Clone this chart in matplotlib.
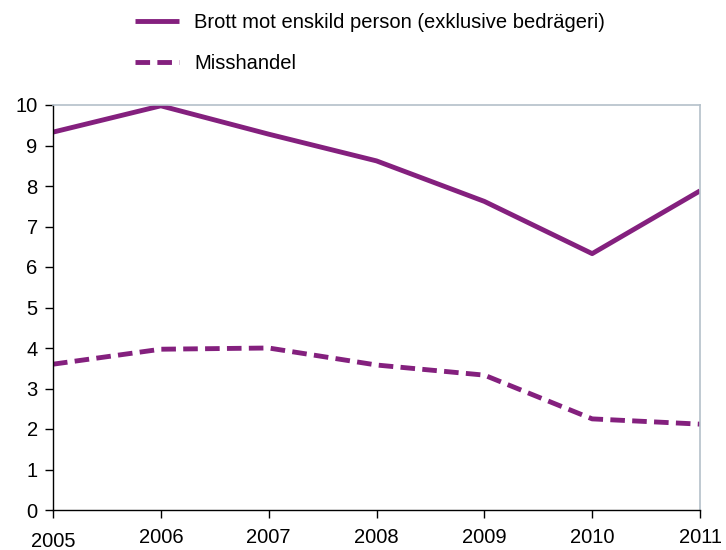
import matplotlib
matplotlib.use("Agg")
import matplotlib.pyplot as plt
from matplotlib.transforms import ScaledTranslation

# Data
years = [2005, 2006, 2007, 2008, 2009, 2010, 2011]
brott = [9.33, 9.98, 9.28, 8.62, 7.62, 6.33, 7.88]
misshandel = [3.6, 3.97, 4.0, 3.58, 3.33, 2.25, 2.12]
labels = ["Brott mot enskild person (exklusive bedrägeri)", "Misshandel"]

purple = "#84207e"
edge = "#b4c0ca"

plt.rcParams['font.family'] = ['Liberation Sans', 'DejaVu Sans']

fig = plt.figure(figsize=(7.26, 5.5), dpi=100)
ax = fig.add_axes([53/726, 40/550, 647/726, 405/550])

l1, = ax.plot(years, brott, color=purple, lw=3.5, solid_capstyle='butt')
l2, = ax.plot(years, misshandel, color=purple, lw=3.5, ls=(0, (3.0, 1.5)), dash_capstyle='butt')

ax.set_xlim(2005, 2011)
ax.set_ylim(0, 10)
ax.set_yticks(range(0, 11))
ax.set_xticks(years)
ax.tick_params(axis='both', labelsize=14.5, direction='out', length=6, width=1, color='black')
ax.tick_params(axis='x', pad=7)
ax.tick_params(axis='y', pad=5)

# the first year label sits a little lower in the original
lbl = ax.get_xticklabels()[0]
lbl.set_transform(lbl.get_transform() + ScaledTranslation(0, -3/72, fig.dpi_scale_trans))

for s in ['top', 'right']:
    ax.spines[s].set_color(edge)
    ax.spines[s].set_linewidth(1.2)
for s in ['left', 'bottom']:
    ax.spines[s].set_color('black')
    ax.spines[s].set_linewidth(1.0)

fig.legend([l1, l2], labels, loc='upper left', bbox_to_anchor=(135/726, 1 - 13/550),
           frameon=False, fontsize=14.5, handlelength=2.2, handletextpad=0.75,
           labelspacing=1.1, borderpad=0, borderaxespad=0)

fig.savefig("out.png", dpi=100)
